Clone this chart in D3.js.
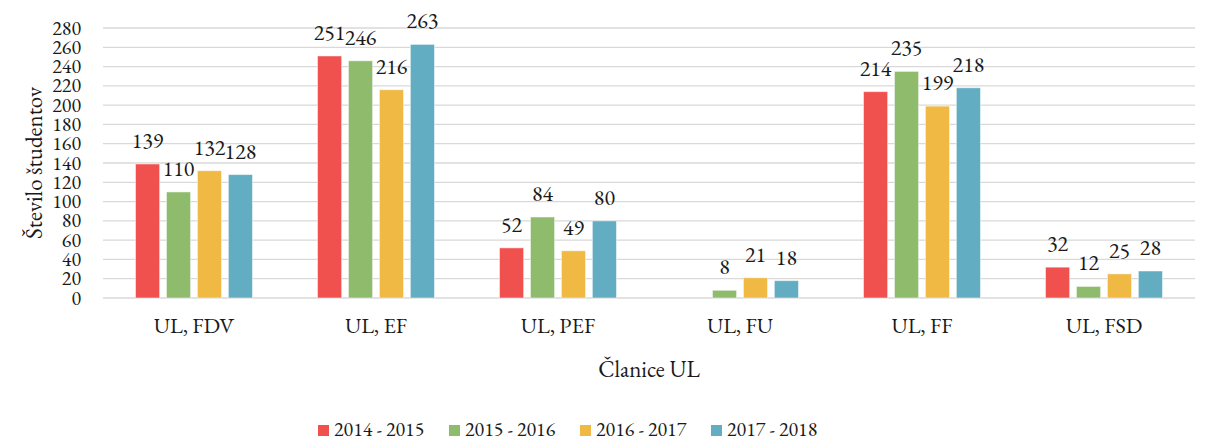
<!DOCTYPE html>
<html>
<head>
<meta charset="utf-8">
<script src="https://cdn.jsdelivr.net/npm/d3@7"></script>
<style>
  body { margin: 0; background: #fff; }
</style>
</head>
<body>
<div id="chart"></div>
<script>
// Chart data
const categories = ["UL, FDV", "UL, EF", "UL, PEF", "UL, FU", "UL, FF", "UL, FSD"];
const seriesNames = ["2014 - 2015", "2015 - 2016", "2016 - 2017", "2017 - 2018"];
const colors = ["#f0514f", "#8fbb6d", "#efb944", "#62adc1"];
const values2014 = [139, 251, 52, null, 214, 32];
const values2015 = [110, 246, 84, 8, 235, 12];
const values2016 = [132, 216, 49, 21, 199, 25];
const values2017 = [128, 263, 80, 18, 218, 28];
const yTicks = d3.range(0, 281, 20);

const seriesValues = [values2014, values2015, values2016, values2017];

const FONT = "'EB Garamond'";
const width = 1208;
const height = 441;
const margin = { top: 28, right: 13, bottom: 143, left: 103 };

const svg = d3.select("#chart")
    .append("svg")
    .attr("width", width)
    .attr("height", height);

const x0 = d3.scaleBand()
    .domain(categories)
    .range([margin.left, width - margin.right]);

const x1 = d3.scaleBand()
    .domain(seriesNames)
    .range([0, x0.bandwidth()])
    .paddingInner(0.22)
    .paddingOuter(1.05);

const y = d3.scaleLinear()
    .domain([0, 280])
    .range([height - margin.bottom, margin.top]);

// gridlines
svg.append("g")
    .selectAll("line")
    .data(yTicks)
    .enter().append("line")
    .attr("x1", margin.left)
    .attr("x2", width - margin.right)
    .attr("y1", d => y(d))
    .attr("y2", d => y(d))
    .attr("stroke", "#d9d9d9")
    .attr("stroke-width", 1.3);

// y axis labels
const yAxis = d3.axisLeft(y).tickValues(yTicks).tickSize(0).tickPadding(0);
svg.append("g")
    .attr("transform", `translate(${margin.left - 22},0)`)
    .call(yAxis)
    .call(g => g.select(".domain").remove())
    .selectAll("text")
    .style("font-family", FONT)
    .style("font-size", "20px")
    .attr("fill", "#1a1a1a")
    .attr("dy", "0.3em");

// x axis labels
const xAxis = d3.axisBottom(x0).tickSize(0).tickPadding(0);
svg.append("g")
    .attr("transform", `translate(0,${y(0) + 19})`)
    .call(xAxis)
    .call(g => g.select(".domain").remove())
    .selectAll("text")
    .style("font-family", FONT)
    .style("font-size", "22px")
    .attr("fill", "#1a1a1a");

// bars
const rows = [];
categories.forEach((c, i) => {
    seriesNames.forEach((s, j) => {
        rows.push({ cat: c, series: s, idx: j, value: seriesValues[j][i] });
    });
});
const bars = rows.filter(d => d.value !== null);

svg.append("g")
    .selectAll("rect")
    .data(bars)
    .enter().append("rect")
    .attr("x", d => x0(d.cat) + x1(d.series))
    .attr("y", d => y(d.value))
    .attr("width", x1.bandwidth())
    .attr("height", d => y(0) - y(d.value))
    .attr("fill", d => colors[d.idx])
    .attr("stroke", "#ffffff")
    .attr("stroke-opacity", 0.5)
    .attr("stroke-width", 1);

// value labels
svg.append("g")
    .selectAll("text")
    .data(bars)
    .enter().append("text")
    .attr("x", d => x0(d.cat) + x1(d.series) + x1.bandwidth() / 2)
    .attr("y", d => y(d.value) - 16)
    .attr("text-anchor", "middle")
    .style("font-family", FONT)
    .style("font-size", "22px")
    .attr("fill", "#1a1a1a")
    .text(d => d.value);

// axis titles
svg.append("text")
    .attr("transform", `translate(42,${(y(0) + y(280)) / 2}) rotate(-90)`)
    .attr("text-anchor", "middle")
    .style("font-family", FONT)
    .style("font-size", "23px")
    .attr("fill", "#1a1a1a")
    .text("Število študentov");

svg.append("text")
    .attr("x", (margin.left + width - margin.right) / 2)
    .attr("y", 377)
    .attr("text-anchor", "middle")
    .style("font-family", FONT)
    .style("font-size", "23px")
    .attr("fill", "#1a1a1a")
    .text("Članice UL");

// legend
const legendX = [318, 449, 580, 711];
const legend = svg.append("g")
    .selectAll("g")
    .data(seriesNames)
    .enter().append("g")
    .attr("transform", (d, i) => `translate(${legendX[i]},425)`);

legend.append("rect")
    .attr("width", 11)
    .attr("height", 11)
    .attr("fill", (d, i) => colors[i]);

legend.append("text")
    .attr("x", 16)
    .attr("y", 11)
    .style("font-family", FONT)
    .style("font-size", "20px")
    .attr("fill", "#1a1a1a")
    .text(d => d);
</script>
</body>
</html>
